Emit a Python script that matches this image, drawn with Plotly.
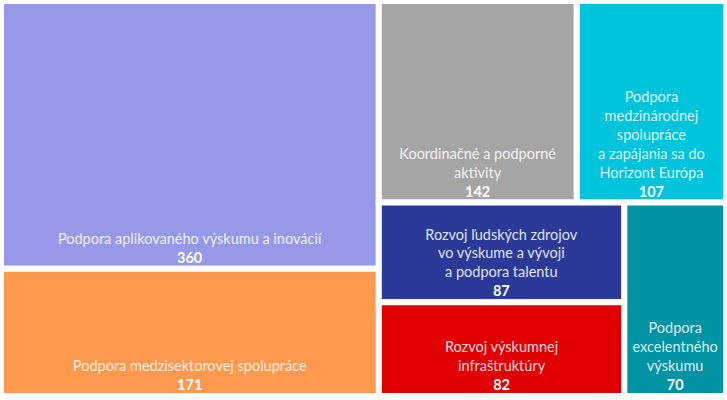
import plotly.graph_objects as go

labels = [
    "Podpora aplikovaného výskumu a inovácií",
    "Podpora medzisektorovej spolupráce",
    "Koordinačné a podporné<br>aktivity",
    "Podpora<br>medzinárodnej<br>spolupráce<br>a zapájania sa do<br>Horizont Európa",
    "Rozvoj ľudských zdrojov<br>vo výskume a vývoji<br>a podpora talentu",
    "Rozvoj výskumnej<br>infraštruktúry",
    "Podpora<br>excelentného<br>výskumu",
]
values = [360, 171, 142, 107, 87, 82, 70]
colors = ["#9599E8", "#FF994D", "#A5A5A5", "#00C4DC", "#2B3A98", "#E00000", "#0093A4"]

fig = go.Figure(go.Treemap(
    labels=labels,
    parents=[""] * len(labels),
    values=values,
    marker=dict(colors=colors, line=dict(color="white", width=6),
                pad=dict(t=0, l=0, r=0, b=0)),
    texttemplate="<span style='color:rgba(255,255,255,0.88)'>%{label}</span><br><b>%{value}</b>",
    textposition="bottom center",
    textfont=dict(family="Lato", size=14.5, color="white"),
    tiling=dict(packing="squarify", squarifyratio=1.618, pad=0),
    sort=True,
    pathbar=dict(visible=False),
    domain=dict(x=[0, 1], y=[0, 1]),
    hoverinfo="skip",
))

fig.update_layout(
    width=727, height=400,
    margin=dict(l=1, r=1, t=1, b=4),
    paper_bgcolor="white",
    hovermode=False,
)

# the page body has a default 8px margin; drop it so the figure fills the window
fig.write_html("out.html", config=dict(displayModeBar=False, staticPlot=True),
               post_script="document.body.style.margin='0px';")
